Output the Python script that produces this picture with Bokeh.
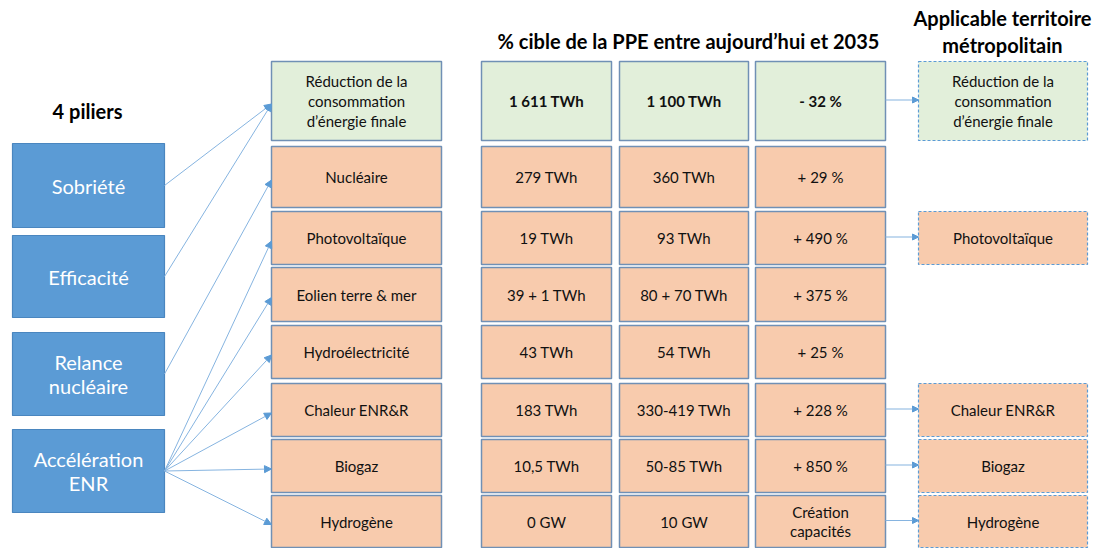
from bokeh.plotting import figure
from bokeh.models import Range1d, ColumnDataSource, Arrow, NormalHead
from bokeh.core.properties import value
from bokeh.embed import file_html
from bokeh.resources import INLINE

# ---------------- data ----------------
pillars = ["Sobriété", "Efficacité", "Relance\nnucléaire", "Accélération\nENR"]
levers = ["Réduction de la\nconsommation\nd’énergie finale", "Nucléaire", "Photovoltaïque",
          "Eolien terre & mer", "Hydroélectricité", "Chaleur ENR&R", "Biogaz", "Hydrogène"]
current_values = ["1 611 TWh", "279 TWh", "19 TWh", "39 + 1 TWh", "43 TWh", "183 TWh", "10,5 TWh", "0 GW"]
target_2035 = ["1 100 TWh", "360 TWh", "93 TWh", "80 + 70 TWh", "54 TWh", "330-419 TWh", "50-85 TWh", "10 GW"]
change_pct = ["- 32 %", "+ 29 %", "+ 490 %", "+ 375 %", "+ 25 %", "+ 228 %", "+ 850 %", "Création\ncapacités"]
is_demand = [True, False, False, False, False, False, False, False]
metropolitan = [True, False, True, False, False, True, True, True]
link_pillar = [0, 1, 2, 3, 3, 3, 3, 3, 3]
link_lever = [0, 0, 1, 2, 3, 4, 5, 6, 7]
title_main = "% cible de la PPE entre aujourd’hui et 2035"
title_right = "Applicable territoire\nmétropolitain"
title_left = "4 piliers"

# ---------------- layout ----------------
row_top = [61, 146, 211, 267, 325, 383, 439, 495]
row_bot = [140, 207, 264, 321, 378, 436, 492, 547]
pil_top = [143, 235, 332, 429]
pil_bot = [227, 317, 415, 512]
PIL_X = (12, 164)
LEV_X = (271, 441)
C1_X = (481, 611)
C2_X = (619, 748)
C3_X = (755, 885)
MET_X = (918, 1087)

FONT = "Lato"
GREEN = "#E2EFDA"
ORANGE = "#F8CBAD"
BLUE = "#5B9BD5"
BORDER = "#7090B5"
LINK = "#86B4E0"
TXT = "#111111"

p = figure(width=1097, height=548, output_backend="svg", toolbar_location=None,
           x_range=Range1d(0, 1097), y_range=Range1d(548, 0),
           min_border=0, x_axis_location=None, y_axis_location=None)
p.grid.visible = False
p.outline_line_color = None
p.background_fill_color = "white"
p.border_fill_color = "white"

n = len(levers)
row_mid = [(a + b) / 2 for a, b in zip(row_top, row_bot)]
fills = [GREEN if d else ORANGE for d in is_demand]

# pillar boxes
pil_mid = [(a + b) / 2 for a, b in zip(pil_top, pil_bot)]
p.quad(left=[PIL_X[0]] * 4, right=[PIL_X[1]] * 4, top=pil_top, bottom=pil_bot,
       fill_color=BLUE, line_color="#4A86BF", line_width=1.2)
p.text(x=[(PIL_X[0] + PIL_X[1]) / 2] * 4, y=pil_mid, text=pillars, text_align="center",
       text_baseline="middle", text_color="white", text_font_size="20px",
       text_font=value(FONT), text_line_height=1.04)

# links
lsrc = ColumnDataSource(dict(
    x0=[PIL_X[1]] * len(link_pillar),
    y0=[pil_mid[i] for i in link_pillar],
    x1=[LEV_X[0]] * len(link_lever),
    y1=[row_mid[j] + 3 for j in link_lever],
))
p.add_layout(Arrow(end=NormalHead(size=7, fill_color=BLUE, line_color=BLUE, line_width=1),
                   x_start="x0", y_start="y0", x_end="x1", y_end="y1",
                   line_color=LINK, line_width=1, source=lsrc))

# lever, value columns
for (xl, xr), labels in [(LEV_X, levers), (C1_X, current_values), (C2_X, target_2035), (C3_X, change_pct)]:
    p.quad(left=[xl] * n, right=[xr] * n, top=row_top, bottom=row_bot,
           fill_color=fills, line_color=BORDER, line_width=1.5)
    bold = labels is not levers
    for k in range(n):
        p.text(x=[(xl + xr) / 2], y=[row_mid[k]], text=[labels[k]], text_align="center",
               text_baseline="middle", text_color=TXT, text_font_size="15px",
               text_font=value(FONT), text_line_height=1.1,
               text_font_style="bold" if (bold and is_demand[k]) else "normal")

# metropolitan boxes
mi = [k for k in range(n) if metropolitan[k]]
p.quad(left=[MET_X[0]] * len(mi), right=[MET_X[1]] * len(mi),
       top=[row_top[k] for k in mi], bottom=[row_bot[k] for k in mi],
       fill_color=[fills[k] for k in mi], line_color=BLUE, line_width=1.2, line_dash="3 2")
p.text(x=[(MET_X[0] + MET_X[1]) / 2] * len(mi), y=[row_mid[k] for k in mi],
       text=[levers[k] for k in mi], text_align="center", text_baseline="middle",
       text_color=TXT, text_font_size="15px", text_font=value(FONT), text_line_height=1.1)
msrc = ColumnDataSource(dict(
    x0=[C3_X[1]] * len(mi), x1=[MET_X[0]] * len(mi),
    y=[row_mid[k] - 1 for k in mi],
))
p.add_layout(Arrow(end=NormalHead(size=6, fill_color=BLUE, line_color=BLUE, line_width=1),
                   x_start="x0", y_start="y", x_end="x1", y_end="y",
                   line_color=LINK, line_width=1.2, source=msrc))

# titles
p.text(x=[87], y=[110], text=[title_left], text_align="center", text_baseline="middle",
       text_color="black", text_font_size="20px", text_font=value(FONT), text_font_style="bold")
p.text(x=[688], y=[40], text=[title_main], text_align="center", text_baseline="middle",
       text_color="black", text_font_size="20px", text_font=value(FONT), text_font_style="bold")
p.text(x=[1002], y=[31], text=[title_right], text_align="center", text_baseline="middle",
       text_color="black", text_font_size="20px", text_font=value(FONT), text_font_style="bold",
       text_line_height=1.1)

open("out.html", "w").write(file_html(p, INLINE))
